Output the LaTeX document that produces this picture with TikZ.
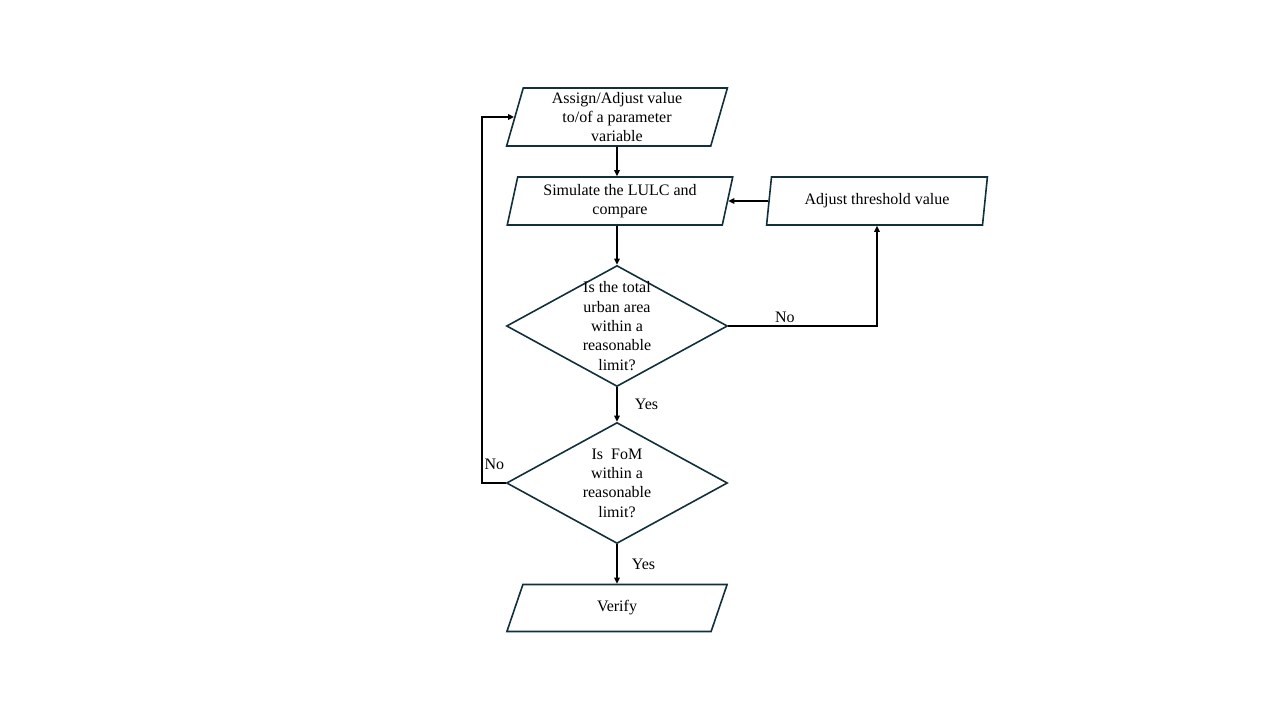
\documentclass[tikz,border=0pt]{standalone}
\usepackage{fontspec}
\setmainfont{Liberation Serif}
\usepackage{tikz}
\usetikzlibrary{arrows.meta,shapes.geometric,positioning,calc}
\definecolor{boxline}{HTML}{12303C}

\begin{document}
\begin{tikzpicture}[
  x=1pt, y=-1pt,
  every node/.style={font=\fontsize{16}{19.4}\selectfont, inner sep=1pt},
  iobox/.style={trapezium, trapezium left angle=77, trapezium right angle=103,
    trapezium stretches=true, draw=boxline, line width=1.6pt, align=center,
    minimum width=221, minimum height=48, inner sep=0pt},
  check/.style={diamond, draw=boxline, line width=1.6pt, align=center,
    minimum width=221, minimum height=121, inner xsep=-12pt, inner ysep=-24pt},
  arr/.style={draw, line width=1.6pt, -{Triangle[length=6pt,width=5.5pt]}}
]
\useasboundingbox (0,0) rectangle (1280,720);
\node[iobox, minimum height=58] (assign) at (617,117) {Assign/Adjust value\\to/of a parameter\\variable};
\node[iobox, minimum width=226] (sim) at (620,201) {Simulate the LULC and\\compare};
\node[iobox] (adj) at (877,201) {Adjust threshold value};
\node[check] (q1) at (617,326) {Is the total\\urban area\\within a\\reasonable\\limit?};
\node[check] (q2) at (617,483) {Is\ \ FoM\\within a\\reasonable\\limit?};
\node[iobox, minimum height=47] (verify) at (617,608) {Verify};

\draw[arr] (assign) -- (assign |- sim.north);
\draw[arr] (q1 |- sim.south) -- (q1);
\draw[arr] (q1.east) -| node[pos=0.19, above=2pt] {No} (adj.south);
\draw[arr] (adj.west) -- (sim.east);
\draw[arr] (q1) -- node[right=16pt] {Yes} (q2);
\draw[arr] (q2.west) -- ++(-24,0) node[above right=12pt and 1pt] {No} |- (assign.west);
\draw[arr] (q2) -- node[right=13pt] {Yes} (verify);
\end{tikzpicture}
\end{document}
